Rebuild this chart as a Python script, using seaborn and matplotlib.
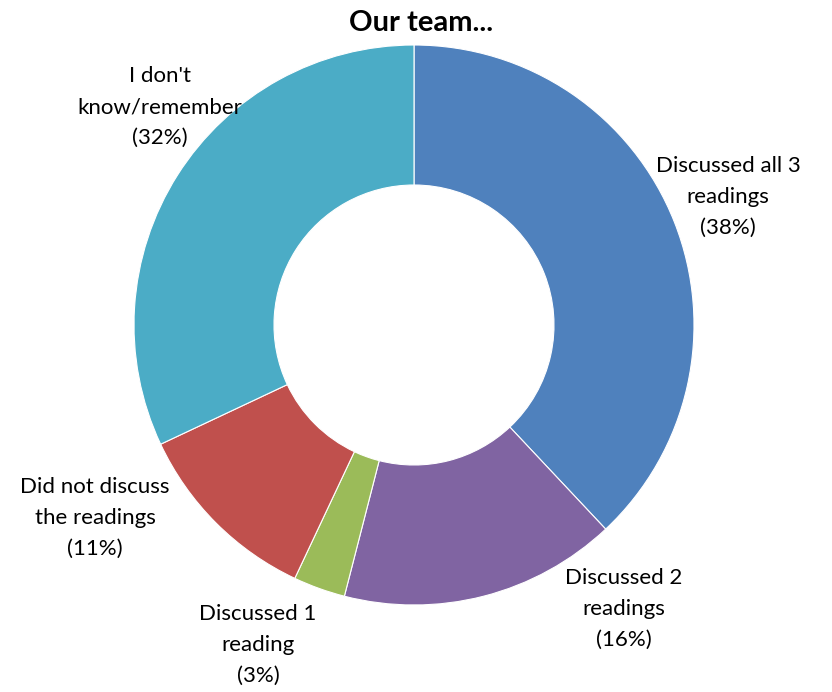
import matplotlib
matplotlib.use("Agg")
import matplotlib.pyplot as plt
import seaborn as sns

sns.set_theme(style="white")
plt.rcParams['font.family'] = ['Lato', 'DejaVu Sans']

categories = ["Discussed all 3\nreadings", "Discussed 2\nreadings", "Discussed 1\nreading",
              "Did not discuss\nthe readings", "I don't\nknow/remember"]
values = [38, 16, 3, 11, 32]
colors = ["#4F81BD", "#8064A2", "#9BBB59", "#C0504D", "#4BACC6"]
title = "Our team..."

# label anchor positions (pixels, y from top)
label_pos = [(728, 197), (624, 609), (258, 645), (95, 518), (160, 107)]

W, H = 832, 692
fig = plt.figure(figsize=(W / 100, H / 100), dpi=100)
ax = fig.add_axes([0, 0, 1, 1])
ax.pie(values, colors=colors, startangle=90, counterclock=False,
       center=(414, H - 325), radius=280,
       wedgeprops=dict(width=140, edgecolor="white", linewidth=0.8))
ax.set_xlim(0, W)
ax.set_ylim(0, H)
ax.set_aspect("equal")
ax.axis("off")

for cat, v, (x, y) in zip(categories, values, label_pos):
    ax.text(x, H - y, f"{cat}\n({v}%)", ha="center", va="center",
            fontsize=16, color="black", linespacing=1.7)

ax.text(421, H - 23, title, ha="center", va="center", fontsize=21,
        fontweight="bold", color="black")

fig.savefig("out.png", dpi=100)
